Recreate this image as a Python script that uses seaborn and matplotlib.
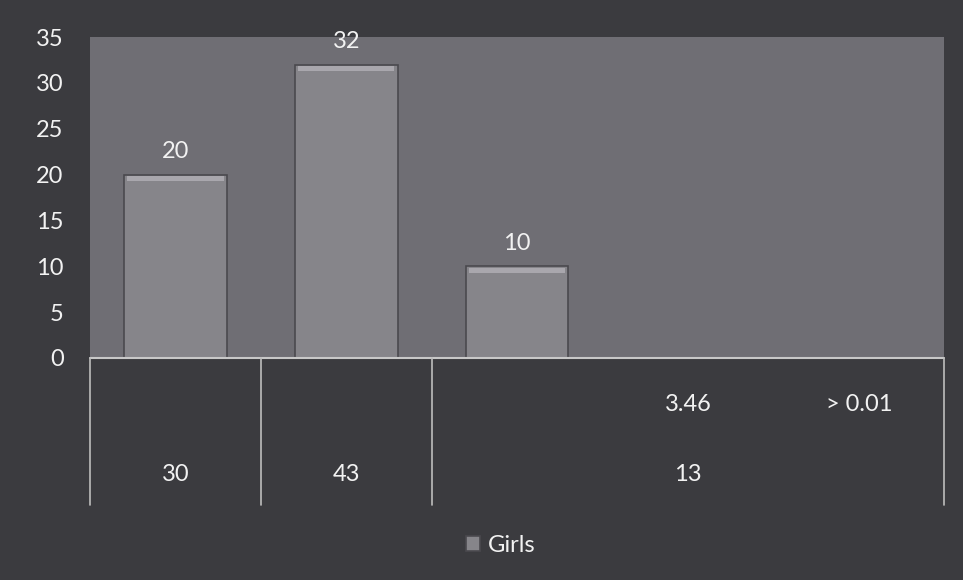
import pandas as pd
import numpy as np
import matplotlib
matplotlib.use('Agg')
from matplotlib import pyplot as plt
from matplotlib.patches import Rectangle
import seaborn as sb

# data
slots = ['c1', 'c2', 'c3', 'c4', 'c5']
girls = [20, 32, 10, np.nan, np.nan]
inner_labels = ['', '', '', '3.46', '> 0.01']
outer_labels = ['30', '43', '13']
outer_spans = [1, 1, 3]

bg = '#3b3b3f'
plot_bg = '#6f6e74'
bar_col = '#86848b'
txt = '#f2f2f2'
fs = 17

sb.set_style('white')
plt.rcParams['font.family'] = ['Lato', 'DejaVu Sans']

df = pd.DataFrame({'slot': slots, 'Girls': girls}).dropna()

fig = plt.figure(figsize=(9.63, 5.8), dpi=100, facecolor=bg)
ax = fig.add_axes([0.0935, 0.383, 0.887, 0.553])
ax.set_facecolor(plot_bg)

sb.barplot(data=df, x='slot', y='Girls', order=slots, color=bar_col,
           width=0.6, edgecolor='#4a494e', linewidth=1.2, ax=ax)

bars = ax.containers[0]
ax.bar_label(bars, fmt='%.0f', padding=9, color=txt, fontsize=fs)

# light bevel strip along the top of each bar
for p in bars:
    x0, w, h = p.get_x(), p.get_width(), p.get_height()
    ax.add_patch(Rectangle((x0 + w * 0.03, h - 0.7), w * 0.94, 0.55,
                           color='#a9a7ad', lw=0, zorder=p.get_zorder() + 0.1))

ax.set_xlim(-0.5, len(slots) - 0.5)
ax.set_ylim(0, 35)
ax.set_yticks(range(0, 36, 5))
ax.tick_params(axis='y', colors=txt, labelsize=fs, length=0, pad=19)
ax.set_xticks([])
ax.set(xlabel='', ylabel='')
for s in ax.spines.values():
    s.set_visible(False)
ax.axhline(0, color='#c8c8c8', lw=1.5, clip_on=False)

tr = ax.get_xaxis_transform()
for i, lab in enumerate(inner_labels):
    ax.text(i, -0.146, lab, transform=tr, ha='center', va='center',
            color=txt, fontsize=fs)

edges = np.concatenate([[-0.5], -0.5 + np.cumsum(outer_spans)])
for e in edges:
    ax.plot([e, e], [0, -0.458], transform=tr, color='#bdbdbd', lw=1.2,
            clip_on=False)
for j, lab in enumerate(outer_labels):
    mid = (edges[j] + edges[j + 1]) / 2
    ax.text(mid, -0.364, lab, transform=tr, ha='center', va='center',
            color=txt, fontsize=fs)

leg = fig.legend(handles=[bars[0]], labels=['Girls'],
                 loc='center', bbox_to_anchor=(0.52, 0.06), frameon=False,
                 fontsize=fs, handlelength=0.6, handleheight=0.6,
                 handletextpad=0.3)
for t in leg.get_texts():
    t.set_color(txt)

fig.savefig('out.png', dpi=100, facecolor=bg)
